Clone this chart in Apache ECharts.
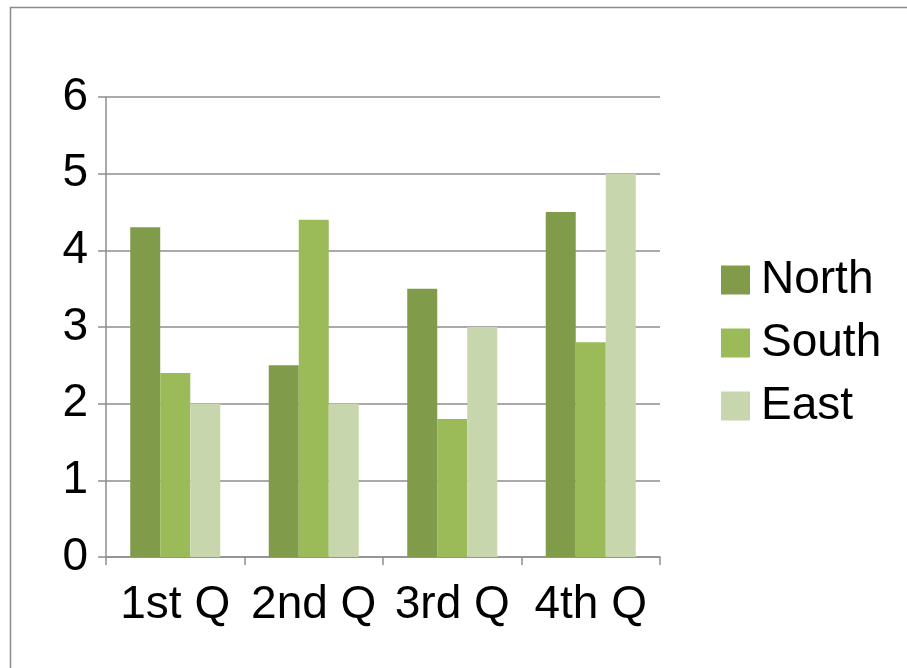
<!DOCTYPE html>
<html>
<head>
<meta charset="UTF-8" />
<title>Quarterly bars</title>
<script src="https://cdn.jsdelivr.net/npm/echarts@6/dist/echarts.min.js"></script>
<style>
  html,body{margin:0;padding:0;width:100%;height:100%;background:#fff;overflow:hidden;}
  #chart{position:absolute;left:0;top:0;width:907px;height:668px;}
</style>
</head>
<body>
<div id="chart"></div>
<script>
const quarters = ['1st Q', '2nd Q', '3rd Q', '4th Q'];
const north = [4.3, 2.5, 3.5, 4.5];
const south = [2.4, 4.4, 1.8, 2.8];
const east  = [2.0, 2.0, 3.0, 5.0];
const yTicks = { min: 0, max: 6, step: 1 };

const font = 'Liberation Sans, Arial, sans-serif';
const gridColor = '#8e8e8e';

const chart = echarts.init(document.getElementById('chart'));
chart.setOption({
  animation: false,
  textStyle: { fontFamily: font },
  // outer frame (only top and left edges are visible in the original)
  graphic: [{
    type: 'rect',
    shape: { x: 10.5, y: 7.5, width: 1000, height: 1000 },
    style: { fill: 'none', stroke: '#8a8a8a', lineWidth: 1.5 },
    silent: true
  }],
  grid: { left: 106, right: 247, top: 97, bottom: 111 },
  legend: {
    orient: 'vertical',
    left: 716,
    top: 252,
    itemWidth: 29,
    itemHeight: 29,
    itemGap: 17,
    icon: 'rect',
    textStyle: {
      fontFamily: font, fontSize: 46, color: '#000',
      lineHeight: 45, padding: [0, 0, 0, 6]
    },
    data: ['North', 'South', 'East']
  },
  xAxis: {
    type: 'category',
    data: quarters,
    axisLine: { lineStyle: { color: gridColor, width: 1.5 } },
    axisTick: { show: true, length: 8, alignWithLabel: false, lineStyle: { color: gridColor, width: 1.5 } },
    axisLabel: { interval: 0, fontFamily: font, fontSize: 46, color: '#000', margin: 25 }
  },
  yAxis: {
    type: 'value',
    min: yTicks.min,
    max: yTicks.max,
    interval: yTicks.step,
    axisLine: { show: true, lineStyle: { color: gridColor, width: 1.5 } },
    axisTick: { show: true, length: 8, lineStyle: { color: gridColor, width: 1.5 } },
    splitLine: { lineStyle: { color: gridColor, width: 1.5 } },
    axisLabel: { fontFamily: font, fontSize: 46, color: '#000', margin: 18 }
  },
  series: [
    { name: 'North', type: 'bar', data: north, barGap: '0%', barCategoryGap: '35%', itemStyle: { color: '#809c4b' } },
    { name: 'South', type: 'bar', data: south, barGap: '0%', barCategoryGap: '35%', itemStyle: { color: '#9bbb59' } },
    { name: 'East',  type: 'bar', data: east,  barGap: '0%', barCategoryGap: '35%', itemStyle: { color: '#c7d6ad' } }
  ]
});
</script>
</body>
</html>
